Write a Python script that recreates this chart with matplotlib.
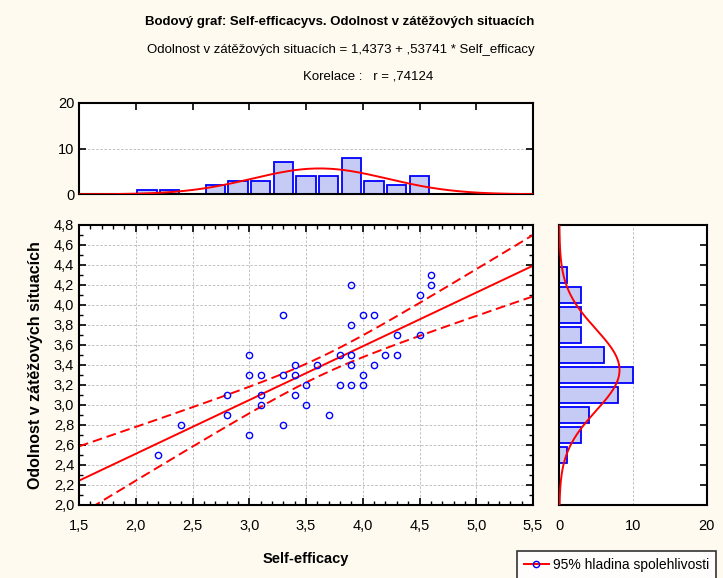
import numpy as np
import matplotlib
matplotlib.use("Agg")
import matplotlib.pyplot as plt
from matplotlib.lines import Line2D
from matplotlib.ticker import MultipleLocator, FuncFormatter

plt.rcParams['font.family'] = ['Liberation Sans', 'DejaVu Sans']

# data
self_eff = [2.2, 2.4, 2.8, 2.8, 3.0, 3.0, 3.0, 3.1, 3.1, 3.1, 3.3, 3.3, 3.3,
            3.4, 3.4, 3.4, 3.5, 3.5, 3.6, 3.7, 3.8, 3.8, 3.9, 3.9, 3.9, 3.9,
            3.9, 4.0, 4.0, 4.0, 4.1, 4.1, 4.2, 4.3, 4.3, 4.5, 4.5, 4.6, 4.6]
odolnost = [2.5, 2.8, 3.1, 2.9, 3.5, 3.3, 2.7, 3.3, 3.1, 3.0, 3.9, 3.3, 2.8,
            3.4, 3.3, 3.1, 3.2, 3.0, 3.4, 2.9, 3.5, 3.2, 4.2, 3.8, 3.5, 3.4,
            3.2, 3.9, 3.3, 3.2, 3.9, 3.4, 3.5, 3.7, 3.5, 4.1, 3.7, 4.3, 4.2]

# histogram of Self-efficacy (bins of 0.2 starting at 2.0)
hx_bins = [2.1, 2.3, 2.5, 2.7, 2.9, 3.1, 3.3, 3.5, 3.7, 3.9, 4.1, 4.3, 4.5]
hx_counts = [1, 1, 0, 2, 3, 3, 7, 4, 4, 8, 3, 2, 4]
# histogram of Odolnost (bins of 0.2)
hy_bins = [2.5, 2.7, 2.9, 3.1, 3.3, 3.5, 3.7, 3.9, 4.1, 4.3]
hy_counts = [1, 3, 4, 8, 10, 6, 3, 3, 3, 1]

b0, b1 = 1.4373, 0.53741
n_obs = 42

bg = '#fffaf0'
bar_fc = '#c6cbf6'
fs = 10.5
comma = FuncFormatter(lambda v, p: ('%.1f' % v).replace('.', ','))

fig = plt.figure(figsize=(7.23, 5.78), dpi=100, facecolor=bg)

ax = fig.add_axes([79/723, 1-505/578, 454/723, 280/578])
axt = fig.add_axes([79/723, 1-194.3/578, 454/723, 91.6/578])
axr = fig.add_axes([559.3/723, 1-505/578, 147.4/723, 280/578])

# scatter + regression + 95% band
x = np.array(self_eff)
y = np.array(odolnost)
xs = np.linspace(1.5, 5.5, 200)
fit = b0 + b1*xs
res = y - (b0 + b1*x)
s = np.sqrt(np.sum(res**2)/(len(x)-2))
sxx = np.sum((x-x.mean())**2)*n_obs/len(x)
half = 2.02*s*np.sqrt(1/n_obs + (xs-x.mean())**2/sxx)

ax.plot(xs, fit, color='red', lw=1.4)
for band in (fit+half, fit-half):
    l, = ax.plot(xs, band, color='red', lw=1.4)
    l.set_dashes([5, 2.5])
ax.plot(x, y, 'o', mfc='none', mec='blue', ms=4.5, mew=1)

ax.set_xlim(1.5, 5.5)
ax.set_ylim(2.0, 4.8)
ax.xaxis.set_major_locator(MultipleLocator(0.5))
ax.xaxis.set_minor_locator(MultipleLocator(0.1))
ax.yaxis.set_major_locator(MultipleLocator(0.2))
ax.yaxis.set_minor_locator(MultipleLocator(0.1))
ax.xaxis.set_major_formatter(comma)
ax.yaxis.set_major_formatter(comma)
ax.tick_params(which='both', direction='in', top=True, right=True, labelsize=fs)
ax.tick_params(which='major', length=5, width=1.2)
ax.tick_params(which='minor', length=3, width=1)
ax.tick_params(axis='x', pad=10)
ax.grid(True, which='major', color='#b8b8b8', ls=(0, (3, 2)), lw=0.6)
ax.set_xlabel('Self-efficacy', fontweight='bold', fontsize=fs, labelpad=14)
ax.set_ylabel('Odolnost v zátěžových situacích', fontweight='bold', fontsize=11.5, labelpad=8)

# top histogram
axt.bar(hx_bins, hx_counts, width=0.17, color=bar_fc, edgecolor='blue', lw=1.3, zorder=2)
mx, sx = x.mean(), x.std(ddof=1)
axt.plot(xs, n_obs*0.2/(sx*np.sqrt(2*np.pi))*np.exp(-0.5*((xs-mx)/sx)**2),
         color='red', lw=1.4, zorder=3)
axt.set_xlim(1.5, 5.5)
axt.set_ylim(0, 20)
axt.set_yticks([0, 10, 20])
axt.xaxis.set_major_locator(MultipleLocator(0.5))
axt.tick_params(axis='x', direction='in', bottom=False, top=True, labelbottom=False, length=5, width=1.2)
axt.tick_params(axis='y', direction='in', right=True, length=5, width=1.2, labelsize=fs)
axt.grid(True, axis='y', color='#b8b8b8', ls=(0, (3, 2)), lw=0.6)

# right histogram
axr.barh(hy_bins, hy_counts, height=0.16, color=bar_fc, edgecolor='blue', lw=1.3, zorder=2)
my, sy = 3.35, 0.41
ys = np.linspace(2.0, 4.8, 200)
axr.plot(n_obs*0.2/(sy*np.sqrt(2*np.pi))*np.exp(-0.5*((ys-my)/sy)**2), ys,
         color='red', lw=1.4, zorder=3)
axr.set_ylim(2.0, 4.8)
axr.set_xlim(0, 20)
axr.set_xticks([0, 10, 20])
axr.yaxis.set_major_locator(MultipleLocator(0.2))
axr.tick_params(axis='y', direction='in', left=False, right=True, labelleft=False, length=5, width=1.2)
axr.tick_params(axis='x', direction='in', top=False, length=0, pad=10, labelsize=fs)
axr.grid(True, axis='x', color='#b8b8b8', ls=(0, (3, 2)), lw=0.6)

for a in (ax, axt, axr):
    for sp in a.spines.values():
        sp.set_linewidth(1.5)

# titles
fig.text(340/723, 1-22/578, 'Bodový graf: Self-efficacyvs. Odolnost v zátěžových situacích',
         ha='center', va='center', fontweight='bold', fontsize=9.5)
fig.text(341/723, 1-50/578, 'Odolnost v zátěžových situacích = 1,4373 + ,53741 * Self_efficacy',
         ha='center', va='center', fontsize=9.5)
fig.text(368/723, 1-77/578, 'Korelace :   r = ,74124', ha='center', va='center', fontsize=9.5)

h = Line2D([], [], color='red', lw=1.4, marker='o', mfc='none', mec='blue', ms=4.5)
leg = fig.legend([h], ['95% hladina spolehlivosti'], loc='upper left',
                 bbox_to_anchor=(517/723, 1-551/578), borderaxespad=0, fontsize=10,
                 frameon=True, fancybox=False, edgecolor='black', facecolor='white',
                 handlelength=1.8, handletextpad=0.3, borderpad=0.5)
leg.get_frame().set_linewidth(1.2)

fig.savefig('out.png', dpi=100, facecolor=bg)
